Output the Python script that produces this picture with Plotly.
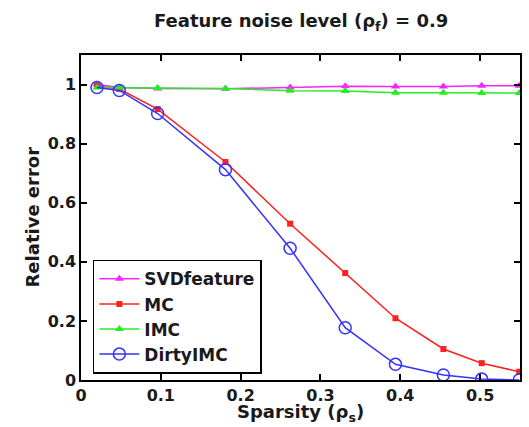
import plotly.graph_objects as go

sparsity = [0.02, 0.048, 0.096, 0.181, 0.262, 0.331, 0.394, 0.454, 0.502, 0.549]
svdfeature = [1.0, 0.99, 0.987, 0.986, 0.99, 0.994, 0.993, 0.993, 0.996, 0.996]
mc = [0.995, 0.985, 0.917, 0.738, 0.529, 0.362, 0.209, 0.105, 0.057, 0.028]
imc = [0.99, 0.99, 0.988, 0.987, 0.979, 0.978, 0.972, 0.972, 0.971, 0.971]
dirtyimc = [0.99, 0.98, 0.902, 0.712, 0.446, 0.177, 0.053, 0.017, 0.003, 0.0]

x_ticks = [0, 0.1, 0.2, 0.3, 0.4, 0.5]
x_ticktext = ["0", "0.1", "0.2", "0.3", "0.4", "0.5"]
y_ticks = [0, 0.2, 0.4, 0.6, 0.8, 1.0]
y_ticktext = ["0", "0.2", "0.4", "0.6", "0.8", "1"]

FONT = "DejaVu Sans, Verdana, sans-serif"
TXT = "#1a1a1a"

fig = go.Figure()
fig.add_trace(go.Scatter(x=sparsity, y=svdfeature, name="SVDfeature", mode="lines+markers",
                         line=dict(color="#FF22FF", width=1.5),
                         marker=dict(symbol="triangle-up", size=8, color="#FF22FF")))
fig.add_trace(go.Scatter(x=sparsity, y=mc, name="MC", mode="lines+markers",
                         line=dict(color="#FF2020", width=1.5),
                         marker=dict(symbol="square", size=6, color="#FF2020")))
fig.add_trace(go.Scatter(x=sparsity, y=imc, name="IMC", mode="lines+markers",
                         line=dict(color="#22EE22", width=1.5),
                         marker=dict(symbol="triangle-up", size=8, color="#22EE22")))
fig.add_trace(go.Scatter(x=sparsity, y=dirtyimc, name="DirtyIMC", mode="lines+markers",
                         line=dict(color="#3333FF", width=1.5),
                         marker=dict(symbol="circle-open", size=12, color="#3333FF",
                                     line=dict(width=1.5))))

axis_common = dict(showgrid=False, zeroline=False, showline=True, linecolor="black",
                   linewidth=1.5, mirror="ticks", ticks="inside", ticklen=6,
                   tickcolor="black", tickwidth=1.5,
                   tickfont=dict(family=FONT, size=16, color=TXT, weight="bold"))

fig.update_xaxes(range=[0, 0.55], tickvals=x_ticks, ticktext=x_ticktext, **axis_common)
fig.update_yaxes(range=[0, 1.1], tickvals=y_ticks, ticktext=y_ticktext, **axis_common)

fig.update_layout(
    width=529, height=427,
    margin=dict(l=81, r=7, t=55, b=47),
    plot_bgcolor="white", paper_bgcolor="white",
    showlegend=True,
    legend=dict(x=0.027, y=0.37, xanchor="left", yanchor="top",
                bgcolor="white", bordercolor="black", borderwidth=1.5,
                font=dict(family=FONT, size=17, color=TXT, weight="bold"),
                itemwidth=40, tracegroupgap=0),
    annotations=[
        dict(text="Feature noise level (ρ<sub>f</sub>) = 0.9", xref="paper", yref="paper",
             x=0.5, y=1, yshift=33, showarrow=False, xanchor="center", yanchor="middle",
             font=dict(family=FONT, size=18, color=TXT, weight="bold")),
        dict(text="Sparsity (ρ<sub>s</sub>)", xref="paper", yref="paper",
             x=0.5, y=0, yshift=-33, showarrow=False, xanchor="center", yanchor="middle",
             font=dict(family=FONT, size=18, color=TXT, weight="bold")),
        dict(text="Relative error", xref="paper", yref="paper", textangle=-90,
             x=0, xshift=-49, y=0.5, showarrow=False, xanchor="center", yanchor="middle",
             font=dict(family=FONT, size=18, color=TXT, weight="bold")),
    ],
)

fig.write_html("out.html")
